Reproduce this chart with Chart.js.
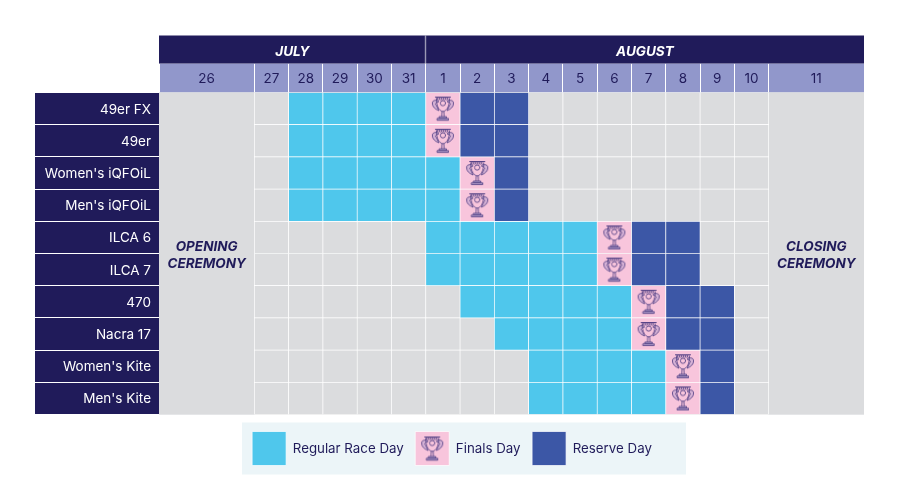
<!DOCTYPE html>
<html>
<head>
<meta charset="utf-8">
<style>html,body{margin:0;padding:0;background:#fff}canvas{display:block}</style>
<script src="https://cdn.jsdelivr.net/npm/chart.js@4"></script>
</head>
<body>
<canvas id="c" width="900" height="500"></canvas>
<script>
const events = ["49er FX","49er","Women's iQFOiL","Men's iQFOiL","ILCA 6","ILCA 7","470","Nacra 17","Women's Kite","Men's Kite"];
const days = [26,27,28,29,30,31,1,2,3,4,5,6,7,8,9,10,11];
const ceremonies = [26,11];
const months = ["JULY","AUGUST"];
const monthDayCounts = [6,11];
const raceDays = [
  [28,29,30,31],[28,29,30,31],[28,29,30,31,1],[28,29,30,31,1],
  [1,2,3,4,5],[1,2,3,4,5],[2,3,4,5,6],[3,4,5,6],[4,5,6,7],[4,5,6,7]
];
const finalsDays = [1,1,2,2,6,6,7,7,8,8];
const reserveDays = [[2,3],[2,3],[3],[3],[7,8],[7,8],[8,9],[8,9],[9],[9]];
const legendLabels = ["Regular Race Day","Finals Day","Reserve Day"];
const ceremonyLabels = {26:["OPENING","CEREMONY"],11:["CLOSING","CEREMONY"]};

const NAVY='#201b5a',PERI='#9197cb',GREY='#dbdcde',BLUE='#4fc7ec',RES='#3c57a6',PINK='#f8c5dc',PANEL='#ecf5f8';
const FONT='Inter, sans-serif';
const wideSpan=2.78;

// column edges in day-width units
const edges=[0];
days.forEach(d=>edges.push(edges[edges.length-1]+(ceremonies.includes(d)?wideSpan:1)));
const range=d=>{const i=days.indexOf(d);return [edges[i],edges[i+1]];};
const center=d=>{const r=range(d);return (r[0]+r[1])/2;};
const maxX=edges[edges.length-1];

const cells=(rows)=>rows.flatMap((ds,i)=>ds.map(d=>({y:events[i],x:range(d)})));
const freeDays=events.map((_,i)=>days.filter(d=>!ceremonies.includes(d)&&!raceDays[i].includes(d)&&!reserveDays[i].includes(d)&&finalsDays[i]!==d));

function makeTrophy(){
  const c=document.createElement('canvas');c.width=24;c.height=26;
  const g=c.getContext('2d');
  const ink='#4a3a80',lil='#b9a3cf';
  g.lineWidth=.8;g.strokeStyle=ink;g.lineCap='round';g.lineJoin='round';
  // handles / leaves
  g.fillStyle='rgba(185,163,207,.55)';
  [1,-1].forEach(s=>{
    g.save();g.translate(12,0);g.scale(s,1);
    g.beginPath();g.moveTo(5,5);g.bezierCurveTo(8,4,11,5,10.5,8);g.bezierCurveTo(10.5,11,8,13.5,4,15);
    g.bezierCurveTo(6,12,6,10,7.5,8.5);g.bezierCurveTo(7,7,6,6.5,5,6.5);g.closePath();g.fill();g.stroke();
    g.restore();
  });
  // cup
  g.beginPath();g.moveTo(5.5,3);g.bezierCurveTo(5.5,11,8,15,12,16);g.bezierCurveTo(16,15,18.5,11,18.5,3);g.stroke();
  // net hatch
  g.lineWidth=.6;
  for(let x=6;x<=17;x+=2){g.beginPath();g.moveTo(x,2);g.lineTo(x+1,4.2);g.moveTo(x+1,2);g.lineTo(x,4.2);g.stroke();}
  g.lineWidth=1;g.beginPath();g.moveTo(4.5,1.6);g.lineTo(19.5,1.6);g.stroke();
  // medal
  g.lineWidth=.8;g.beginPath();g.arc(12,7.6,2.6,0,Math.PI*2);g.stroke();
  // stem + base
  g.beginPath();g.moveTo(11,16);g.lineTo(10.8,21);g.moveTo(13,16);g.lineTo(13.2,21);g.stroke();
  g.fillStyle=lil;g.fillRect(8.5,21,7,1.8);g.strokeRect(8.5,21,7,1.8);
  g.fillRect(6.5,22.8,11,1.8);g.strokeRect(6.5,22.8,11,1.8);
  return c;
}
const trophy=makeTrophy();

const bar=(label,data,color,extra={})=>Object.assign({type:'bar',label,data,backgroundColor:color,borderColor:'#fff',borderWidth:.7,borderSkipped:false,grouped:false,barPercentage:1,categoryPercentage:1},extra);

const monthEdges=[0,edges[monthDayCounts[0]],maxX];
const monthCenters=[(monthEdges[0]+monthEdges[1])/2,(monthEdges[1]+monthEdges[2])/2];

const decor={
  id:'decor',
  beforeDraw(chart){
    const ctx=chart.ctx,l=chart.legend;
    if(l){
      ctx.save();ctx.fillStyle=PANEL;
      ctx.fillRect(242,l.top+2.5,444,52);
      ctx.restore();
    }
  },
  beforeDatasetsDraw(chart){
    const a=chart.chartArea,ctx=chart.ctx;
    ctx.save();ctx.fillStyle=GREY;ctx.fillRect(a.left,a.top,a.right-a.left,a.bottom-a.top);ctx.restore();
  },
  afterDatasetsDraw(chart){
    const ctx=chart.ctx,x=chart.scales.x,y=chart.scales.y;
    ctx.save();ctx.fillStyle=NAVY;ctx.font='italic 700 13.5px '+FONT;ctx.textAlign='center';ctx.textBaseline='middle';
    const mid=(y.top+y.bottom)/2;
    ceremonies.forEach(d=>{
      const px=x.getPixelForValue(center(d));
      ceremonyLabels[d].forEach((t,i)=>ctx.fillText(t,px,mid+(i-.5)*17+1.5));
    });
    ctx.restore();
  },
  afterDraw(chart){
    const hb=chart.legend&&chart.legend.legendHitBoxes;
    if(hb&&hb[1]){
      const h=hb[1];
      chart.ctx.drawImage(trophy,h.left+5,h.top+4);
    }
  }
};

new Chart(document.getElementById('c'),{
  data:{
    labels:events,
    datasets:[
      {type:'scatter',label:'trophies',data:finalsDays.map((d,i)=>({x:center(d),y:events[i]})),pointStyle:trophy,pointRadius:14,order:0},
      bar('free',cells(freeDays),GREY,{order:5}),
      bar('ceremony',events.flatMap(e=>ceremonies.map(d=>({y:e,x:range(d)}))),GREY,{borderWidth:0,order:6}),
      bar(legendLabels[0],cells(raceDays),BLUE,{order:4}),
      bar(legendLabels[1],finalsDays.map((d,i)=>({y:events[i],x:range(d)})),PINK,{order:3}),
      bar(legendLabels[2],cells(reserveDays),RES,{order:2})
    ]
  },
  options:{
    indexAxis:'y',
    responsive:false,
    animation:false,
    events:[],
    layout:{padding:{left:35,right:31,top:35.5,bottom:24.5}},
    plugins:{
      tooltip:{enabled:false},
      legend:{
        position:'bottom',
        onClick:null,
        labels:{
          boxWidth:34,boxHeight:34,padding:11.5,
          color:NAVY,font:{family:FONT,size:13.3},
          filter:it=>legendLabels.includes(it.text),
          sort:(a,b)=>legendLabels.indexOf(a.text)-legendLabels.indexOf(b.text)
        }
      }
    },
    scales:{
      y:{
        type:'category',
        offset:true,
        position:'left',
        backgroundColor:NAVY,
        border:{display:false},
        grid:{offset:true,drawOnChartArea:false,drawTicks:true,tickLength:124,tickColor:'#fff',tickWidth:1},
        ticks:{color:'#fff',font:{family:FONT,size:13.5},padding:-116,labelOffset:1,autoSkip:false},
        afterFit(s){s.width=124;}
      },
      ySpacer:{
        type:'linear',axis:'y',position:'right',
        border:{display:false},grid:{display:false},ticks:{display:false},
        afterFit(s){s.width=5;}
      },
      x:{
        type:'linear',axis:'x',position:'top',min:0,max:maxX,weight:1,
        backgroundColor:PERI,
        border:{display:false},
        grid:{drawOnChartArea:false,tickLength:29,tickWidth:1,
          tickColor:c=>c.tick&&edges.includes(c.tick.value)?'#fff':'rgba(0,0,0,0)'},
        ticks:{color:NAVY,font:{family:FONT,size:13.5},padding:-24,autoSkip:false,maxRotation:0,
          callback:v=>{const i=days.findIndex(d=>center(d)===v);return i<0?'':String(days[i]);}},
        afterBuildTicks(s){s.ticks=[...edges,...days.map(center)].sort((a,b)=>a-b).map(value=>({value}));},
        afterFit(s){s.height=29;}
      },
      xMonth:{
        type:'linear',axis:'x',position:'top',min:0,max:maxX,weight:10,
        backgroundColor:NAVY,
        border:{display:false},
        grid:{drawOnChartArea:false,tickLength:28,tickWidth:1.4,
          tickColor:c=>c.tick&&c.tick.value===monthEdges[1]?'rgba(255,255,255,.55)':'rgba(0,0,0,0)'},
        ticks:{color:'#fff',font:{family:FONT,size:13.5,weight:'700',style:'italic'},padding:-24.5,autoSkip:false,maxRotation:0,
          callback:v=>{const i=monthCenters.indexOf(v);return i<0?'':months[i];}},
        afterBuildTicks(s){s.ticks=[...monthEdges,...monthCenters].sort((a,b)=>a-b).map(value=>({value}));},
        afterFit(s){s.height=28;}
      },
      xSpacer:{
        type:'linear',axis:'x',position:'bottom',min:0,max:maxX,
        border:{display:false},grid:{display:false},ticks:{display:false},
        afterFit(s){s.height=5.5;}
      }
    }
  },
  plugins:[decor]
});
</script>
</body>
</html>
